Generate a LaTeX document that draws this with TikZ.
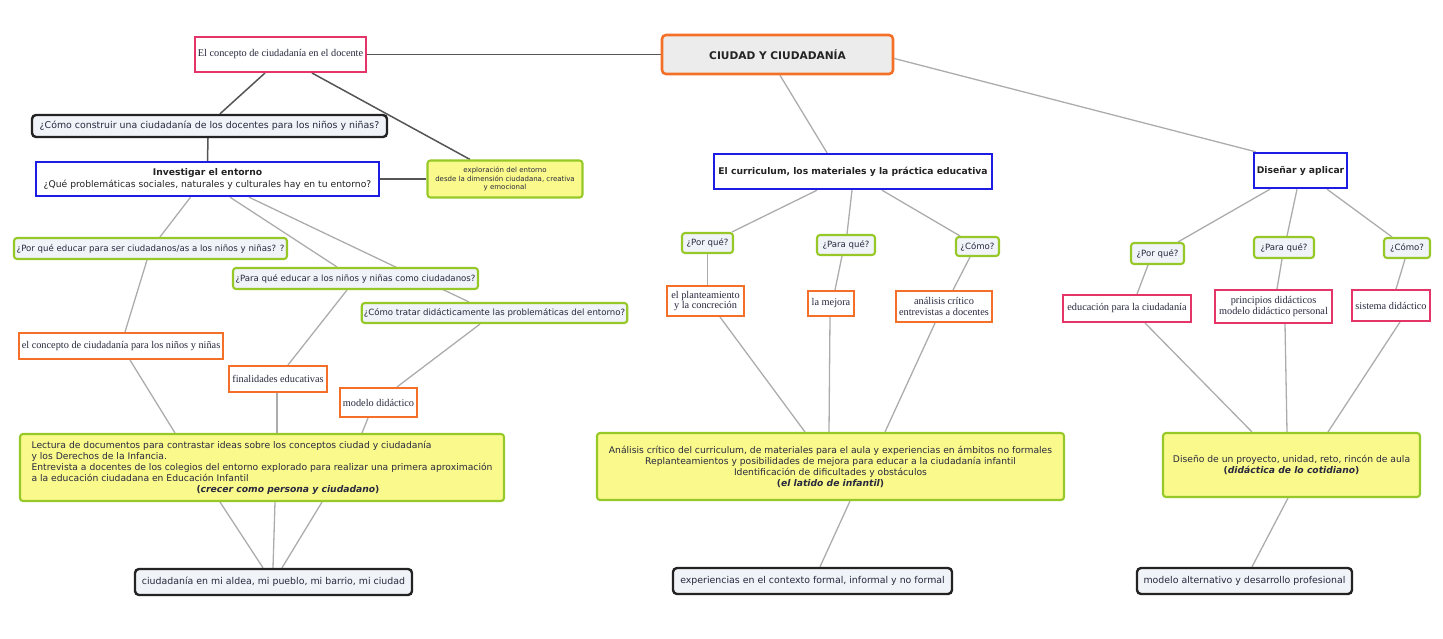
\documentclass[tikz,border=0pt]{standalone}
\usepackage{fontspec}
\setmainfont{DejaVu Sans}
\newfontfamily\timesfont{Liberation Serif}
\usetikzlibrary{backgrounds}

\definecolor{boxorange}{RGB}{244,112,40}
\definecolor{boxpink}{RGB}{228,52,104}
\definecolor{boxblue}{RGB}{28,28,228}
\definecolor{boxgreen}{RGB}{150,200,40}
\definecolor{boxblack}{RGB}{35,35,35}
\definecolor{fillyellow}{RGB}{250,250,140}
\definecolor{fillpale}{RGB}{240,243,247}
\definecolor{fillroot}{RGB}{236,236,236}
\definecolor{txtdark}{RGB}{40,40,62}
\definecolor{linkdark}{RGB}{85,85,85}
\definecolor{linklight}{RGB}{172,172,172}

\tikzset{
	basebox/.style={draw, inner sep=2pt, align=center, text=txtdark},
	rootbox/.style={basebox, draw=boxorange, fill=fillroot, line width=2.6pt, rounded corners=4pt, font=\fontsize{10.6}{12}\selectfont\bfseries, text=boxblack},
	bluebox/.style={basebox, draw=boxblue, fill=white, line width=2.4pt, font=\fontsize{9.2}{12}\selectfont, text=boxblack},
	blackbox/.style={basebox, draw=boxblack, fill=fillpale, line width=2.4pt, rounded corners=4pt, font=\fontsize{9.4}{11}\selectfont},
	greenbox/.style={basebox, draw=boxgreen, fill=fillpale, line width=2.1pt, rounded corners=3pt, font=\fontsize{8.6}{10}\selectfont},
	orangebox/.style={basebox, draw=boxorange, fill=white, line width=2.1pt, font=\timesfont\fontsize{10.3}{10.5}\selectfont},
	pinkbox/.style={basebox, draw=boxpink, fill=white, line width=2pt, font=\timesfont\fontsize{10.3}{10.5}\selectfont},
	yellowbox/.style={basebox, draw=boxgreen, fill=fillyellow, line width=2.1pt, rounded corners=3pt, font=\fontsize{9.2}{11}\selectfont},
	darklink/.style={draw=linkdark, line width=1.5pt},
	lightlink/.style={draw=linklight, line width=1.3pt}
}

\begin{document}
\begin{tikzpicture}[x=1pt,y=-1pt]
	%%%%% START %%%%%
	\useasboundingbox (0,0) rectangle (1443,638);
	
	\node[rootbox, minimum width=231pt, minimum height=39pt] (root) at (777.5,54.5) {CIUDAD Y CIUDADANÍA};
	
	% left branch
	\node[pinkbox, minimum width=171pt, minimum height=35pt] (docente) at (280.5,54.5) {El concepto de ciudadanía en el docente};
	\node[blackbox, minimum width=355pt, minimum height=22pt] (construir) at (209.5,126) {¿Cómo construir una ciudadanía de los docentes para los niños y niñas?};
	\node[bluebox, minimum width=343pt, minimum height=34pt] (investigar) at (207.5,179) {\textbf{Investigar el entorno}\\¿Qué problemáticas sociales, naturales y culturales hay en tu entorno?};
	\node[yellowbox, font=\fontsize{7}{8.6}\selectfont, minimum width=155pt, minimum height=37pt] (explora) at (505,179) {exploración del entorno\\desde la dimensión ciudadana, creativa\\y emocional};
	
	\node[greenbox, minimum width=273pt, minimum height=21pt] (porqueL) at (150.5,248.5) {¿Por qué educar para ser ciudadanos/as a los niños y niñas? ?};
	\node[greenbox, minimum width=245pt, minimum height=21pt] (paraqueL) at (355.5,278.5) {¿Para qué educar a los niños y niñas como ciudadanos?};
	\node[greenbox, minimum width=265pt, minimum height=20pt] (comoL) at (494.5,313) {¿Cómo tratar didácticamente las problemáticas del entorno?};
	
	\node[orangebox, minimum width=204pt, minimum height=26pt] (concninos) at (121,346) {el concepto de ciudadanía para los niños y niñas};
	\node[orangebox, minimum width=98pt, minimum height=26pt] (finalidades) at (278,379) {finalidades educativas};
	\node[orangebox, minimum width=77pt, minimum height=29pt] (modelo) at (378.5,402.5) {modelo didáctico};
	
	\node[yellowbox, align=left, minimum width=484pt, minimum height=67pt] (activL) at (262,467.5) {Lectura de documentos para contrastar ideas sobre los conceptos ciudad y ciudadanía\\y los Derechos de la Infancia.\\Entrevista a docentes de los colegios del entorno explorado para realizar una primera aproximación\\a la educación ciudadana en Educación Infantil\\\hspace*{165pt}\textbf{(\textit{crecer como persona y ciudadano})}};
	\node[blackbox, minimum width=277pt, minimum height=26pt] (ciudadL) at (273.5,582) {ciudadanía en mi aldea, mi pueblo, mi barrio, mi ciudad};
	
	% centre branch
	\node[bluebox, font=\fontsize{9.2}{12}\selectfont\bfseries, minimum width=278pt, minimum height=35pt] (curriculum) at (853,171.5) {El curriculum, los materiales y la práctica educativa};
	\node[greenbox, minimum width=51pt, minimum height=20pt] (porqueC) at (707.5,243) {¿Por qué?};
	\node[greenbox, minimum width=58pt, minimum height=20pt] (paraqueC) at (846,245) {¿Para qué?};
	\node[greenbox, minimum width=43pt, minimum height=19pt] (comoC) at (977.5,246.5) {¿Cómo?};
	\node[orangebox, minimum width=77pt, minimum height=30pt] (plantea) at (705.5,301) {el planteamiento\\y la concreción};
	\node[orangebox, minimum width=46pt, minimum height=25pt] (mejora) at (831,303.5) {la mejora};
	\node[orangebox, minimum width=96pt, minimum height=31pt] (analisis) at (944,306.5) {análisis crítico\\entrevistas a docentes};
	\node[yellowbox, minimum width=467pt, minimum height=67pt] (activC) at (830.5,466.5) {Análisis crítico del curriculum, de materiales para el aula y experiencias en ámbitos no formales\\Replanteamientos y posibilidades de mejora para educar a la ciudadanía infantil\\Identificación de dificultades y obstáculos\\\textbf{(\textit{el latido de infantil})}};
	\node[blackbox, minimum width=279pt, minimum height=26pt] (contexto) at (812.5,581) {experiencias en el contexto formal, informal y no formal};
	
	% right branch
	\node[bluebox, font=\fontsize{9.2}{12}\selectfont\bfseries, minimum width=93pt, minimum height=35pt] (disenar) at (1300.5,170.5) {Diseñar y aplicar};
	\node[greenbox, minimum width=53pt, minimum height=21pt] (porqueR) at (1157.5,253.5) {¿Por qué?};
	\node[greenbox, minimum width=60pt, minimum height=21pt] (paraqueR) at (1284,247.5) {¿Para qué?};
	\node[greenbox, minimum width=46pt, minimum height=20pt] (comoR) at (1407,248) {¿Cómo?};
	\node[pinkbox, minimum width=128pt, minimum height=27pt] (educa) at (1127,308.5) {educación para la ciudadanía};
	\node[pinkbox, minimum width=117pt, minimum height=33pt] (principios) at (1273.5,306.5) {principios didácticos\\modelo didáctico personal};
	\node[pinkbox, minimum width=78pt, minimum height=31pt] (sistema) at (1391,305.5) {sistema didáctico};
	\node[yellowbox, minimum width=257pt, minimum height=64pt] (activR) at (1291.5,465) {Diseño de un proyecto, unidad, reto, rincón de aula\\\textbf{(\textit{didáctica de lo cotidiano})}};
	\node[blackbox, minimum width=215pt, minimum height=26pt] (modeloR) at (1244.5,581) {modelo alternativo y desarrollo profesional};
	
	\begin{scope}[on background layer]
		\draw[darklink] (root.west) -- (docente.east);
		\draw[darklink] ([xshift=-15.5pt]docente.south) -- ([xshift=10.5pt]construir.north);
		\draw[darklink] ([xshift=31.5pt]docente.south) -- ([xshift=-35pt]explora.north);
		\draw[darklink] ([xshift=-1.5pt]construir.south) -- (investigar.north);
		\draw[darklink] (investigar.east) -- (explora.west);
		
		\draw[lightlink] ([xshift=-17pt]investigar.south) -- ([xshift=9.5pt]porqueL.north);
		\draw[lightlink] ([xshift=22.5pt]investigar.south) -- ([xshift=-18.5pt]paraqueL.north);
		\draw[lightlink] ([xshift=41.5pt]investigar.south) -- ([xshift=-25.5pt]comoL.north);
		\draw[lightlink] ([xshift=-3.5pt]porqueL.south) -- ([xshift=4pt]concninos.north);
		\draw[lightlink] ([xshift=9pt]concninos.south) -- ([xshift=-87pt]activL.north);
		\draw[lightlink] ([xshift=-8.5pt]paraqueL.south) -- ([xshift=10pt]finalidades.north);
		\draw[lightlink] ([xshift=-1pt]finalidades.south) -- ([xshift=15pt]activL.north);
		\draw[lightlink] ([xshift=-14.5pt]comoL.south) -- ([xshift=18.5pt]modelo.north);
		\draw[lightlink] ([xshift=-10.5pt]modelo.south) -- ([xshift=100pt]activL.north);
		\draw[lightlink] ([xshift=-42pt]activL.south) -- ([xshift=-10.5pt]ciudadL.north);
		\draw[lightlink] ([xshift=13pt]activL.south) -- ([xshift=-0.5pt]ciudadL.north);
		\draw[lightlink] ([xshift=60pt]activL.south) -- ([xshift=8.5pt]ciudadL.north);
		
		\draw[lightlink] ([xshift=2.5pt]root.south) -- ([xshift=-26pt]curriculum.north);
		\draw[lightlink] ([xshift=-36pt]curriculum.south) -- ([xshift=24.5pt]porqueC.north);
		\draw[lightlink] ([xshift=-1pt]curriculum.south) -- ([xshift=1pt]paraqueC.north);
		\draw[lightlink] ([xshift=29pt]curriculum.south) -- ([xshift=-17.5pt]comoC.north);
		\draw[lightlink] (porqueC.south) -- ([xshift=2pt]plantea.north);
		\draw[lightlink] ([xshift=-4pt]paraqueC.south) -- ([xshift=4pt]mejora.north);
		\draw[lightlink] ([xshift=-7.5pt]comoC.south) -- ([xshift=9pt]analisis.north);
		\draw[lightlink] ([xshift=14.5pt]plantea.south) -- ([xshift=-25.5pt]activC.north);
		\draw[lightlink] ([xshift=-1pt]mejora.south) -- ([xshift=-1.5pt]activC.north);
		\draw[lightlink] ([xshift=-9pt]analisis.south) -- ([xshift=54.5pt]activC.north);
		\draw[lightlink] ([xshift=19.5pt]activC.south) -- ([xshift=7.5pt]contexto.north);
		
		\draw[lightlink] ([yshift=-4pt]root.east) -- ([xshift=3pt]disenar.north west);
		\draw[lightlink] ([xshift=-30.5pt]disenar.south) -- ([xshift=20.5pt]porqueR.north);
		\draw[lightlink] ([xshift=-3.5pt]disenar.south) -- ([xshift=3pt]paraqueR.north);
		\draw[lightlink] ([xshift=26.5pt]disenar.south) -- ([xshift=-15pt]comoR.north);
		\draw[lightlink] ([xshift=-9.5pt]porqueR.south) -- ([xshift=10pt]educa.north);
		\draw[lightlink] ([xshift=-2pt]paraqueR.south) -- ([xshift=3.5pt]principios.north);
		\draw[lightlink] ([xshift=-2pt]comoR.south) -- ([xshift=5pt]sistema.north);
		\draw[lightlink] ([xshift=18pt]educa.south) -- ([xshift=-39.5pt]activR.north);
		\draw[lightlink] ([xshift=11.5pt]principios.south) -- ([xshift=-4.5pt]activR.north);
		\draw[lightlink] ([xshift=9pt]sistema.south) -- ([xshift=36.5pt]activR.north);
		\draw[lightlink] ([xshift=-3.5pt]activR.south) -- ([xshift=7.5pt]modeloR.north);
	\end{scope}
	
	%%%%% END %%%%%
\end{tikzpicture}
\end{document}
